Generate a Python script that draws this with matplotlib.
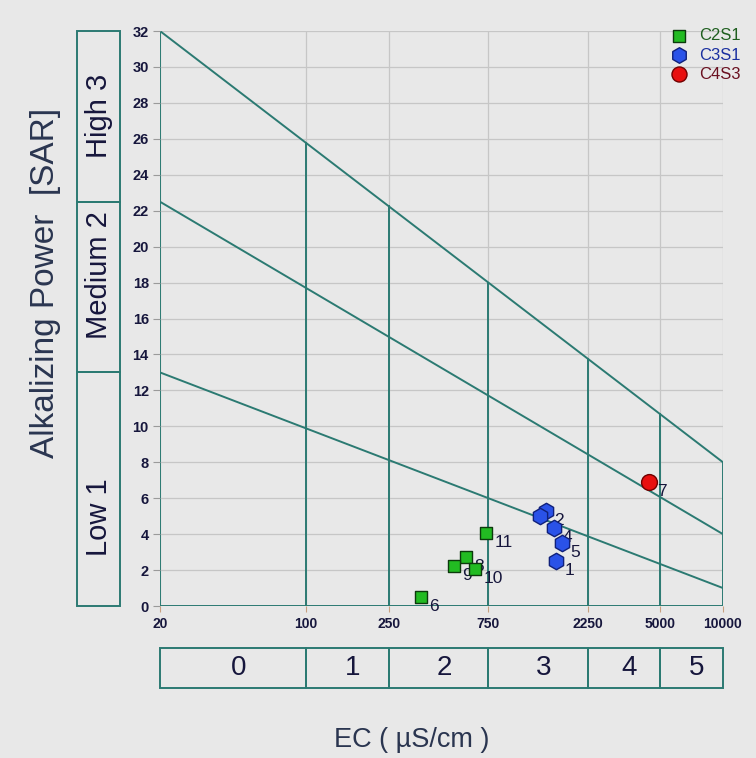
import numpy as np
import matplotlib
matplotlib.use("Agg")
import matplotlib.pyplot as plt

plt.rcParams["font.family"] = ["Liberation Sans", "DejaVu Sans"]

# samples: id, EC (uS/cm), SAR, class
sample_ids = ["1", "2", "3", "4", "5", "6", "7", "8", "9", "10", "11"]
ec_values = [1580, 1420, 1330, 1550, 1690, 357, 4420, 586, 513, 647, 731]
sar_values = [2.5, 5.3, 5.0, 4.35, 3.5, 0.5, 6.9, 2.73, 2.23, 2.06, 4.06]
sample_class = ["C3S1", "C3S1", "C3S1", "C3S1", "C3S1", "C2S1", "C4S3",
                "C2S1", "C2S1", "C2S1", "C2S1"]
# ids whose label is written next to the point
labelled = ["1", "2", "4", "5", "6", "7", "8", "9", "10", "11"]

# class boundaries
ec_limits = [20, 100, 250, 750, 2250, 5000, 10000]
ec_classes = ["0", "1", "2", "3", "4", "5"]
sar_at_20 = [13, 22.5, 32]
sar_at_10000 = [1, 4, 8]
sar_classes = ["Low 1", "Medium 2", "High 3"]

teal = "#2b7a72"
navy = "#16163c"
bg = "#e8e8e8"

styles = {
    "C2S1": dict(marker="s", s=70, color="#22bb22", edgecolor="#0c3a0c", text="#1f5f1f"),
    "C3S1": dict(marker="h", s=140, color="#2a52e8", edgecolor="#10207a", text="#1a2fa0"),
    "C4S3": dict(marker="o", s=130, color="#e81010", edgecolor="#700000", text="#6a1020"),
}

fig = plt.figure(figsize=(7.56, 7.58), dpi=100, facecolor=bg)
ax = fig.add_axes([0.2116, 0.2005, 0.7447, 0.7586], facecolor=bg)
ax.set_xscale("log")
ax.set_xlim(20, 10000)
ax.set_ylim(0, 32)

# grid
for y in range(0, 33, 2):
    ax.axhline(y, color="#c6c6c6", lw=0.9, zorder=0)
for x in ec_limits:
    ax.axvline(x, color="#c6c6c6", lw=0.9, zorder=0)

# sodium hazard lines (straight on log axis)
lx = np.log10(ec_limits[0])
rx = np.log10(ec_limits[-1])
def top_line(x):
    return sar_at_20[2] + (sar_at_10000[2] - sar_at_20[2]) * (np.log10(x) - lx) / (rx - lx)

for a, b in zip(sar_at_20, sar_at_10000):
    ax.plot([ec_limits[0], ec_limits[-1]], [a, b], color=teal, lw=1.4, zorder=1)
for x in ec_limits:
    ax.plot([x, x], [0, top_line(x)], color=teal, lw=1.4, zorder=1)
ax.plot([ec_limits[0], ec_limits[-1]], [0, 0], color=teal, lw=1.4, zorder=1)

for s in ax.spines.values():
    s.set_visible(False)

ax.set_yticks(range(0, 33, 2))
ax.set_xticks(ec_limits)
ax.set_xticklabels([str(v) for v in ec_limits])
ax.xaxis.set_minor_locator(matplotlib.ticker.NullLocator())
ax.tick_params(axis="y", length=5, color="#9a9a9a", labelsize=10.5, labelcolor=navy, pad=3)
ax.tick_params(axis="x", length=4, color="#c8a080", labelsize=10, labelcolor=navy, pad=4)
for lab in ax.get_xticklabels() + ax.get_yticklabels():
    lab.set_fontweight("bold")

# samples
for cls, st in styles.items():
    idx = [i for i, c in enumerate(sample_class) if c == cls]
    ax.scatter([ec_values[i] for i in idx], [sar_values[i] for i in idx],
               marker=st["marker"], s=st["s"], color=st["color"],
               edgecolor=st["edgecolor"], linewidth=1, zorder=4, label=cls)
for sid, x, y in zip(sample_ids, ec_values, sar_values):
    if sid in labelled:
        ax.annotate(sid, (x, y), xytext=(6, -7), textcoords="offset points",
                    ha="left", va="center", fontsize=12.5, color=navy, zorder=3)

leg = fig.legend(loc="upper right", bbox_to_anchor=(0.995, 0.978), frameon=False,
                 fontsize=12, handletextpad=0.2, labelspacing=0.25, borderpad=0.2,
                 markerscale=0.95)
for txt, cls in zip(leg.get_texts(), styles):
    txt.set_color(styles[cls]["text"])

# SAR class boxes on the left
axl = fig.add_axes([0.1019, 0.2005, 0.0569, 0.7586])
axl.set_ylim(0, 32)
axl.set_xlim(0, 1)
axl.axis("off")
sar_edges = [0] + sar_at_20
label_y = [4.95, 18.4, 27.25]
for i, name in enumerate(sar_classes):
    lo, hi = sar_edges[i], sar_edges[i + 1]
    axl.add_patch(plt.Rectangle((0, lo), 1, hi - lo, fill=False, edgecolor=teal,
                                lw=1.4, clip_on=False))
    axl.text(0.5, label_y[i], name, rotation=90, ha="center", va="center",
             fontsize=21, color=navy)

# EC class boxes below
axb = fig.add_axes([0.2116, 0.0923, 0.7447, 0.0528])
axb.set_xscale("log")
axb.set_xlim(20, 10000)
axb.set_ylim(0, 1)
axb.axis("off")
for i, name in enumerate(ec_classes):
    lo, hi = ec_limits[i], ec_limits[i + 1]
    axb.add_patch(plt.Rectangle((lo, 0), hi - lo, 1, fill=False, edgecolor=teal,
                                lw=1.4, clip_on=False))
    axb.text(np.sqrt(lo * hi) * 1.06, 0.5, name, ha="center", va="center",
             fontsize=20, color=navy)

fig.text(0.06, 0.627, "Alkalizing Power  [SAR]", rotation=90, ha="center",
         va="center", fontsize=24, color="#2a3550")
fig.text(0.544, 0.024, "EC ( µS/cm )", ha="center", va="center",
         fontsize=19.5, color="#2a3550")

fig.savefig("out.png", dpi=100, facecolor=bg)
